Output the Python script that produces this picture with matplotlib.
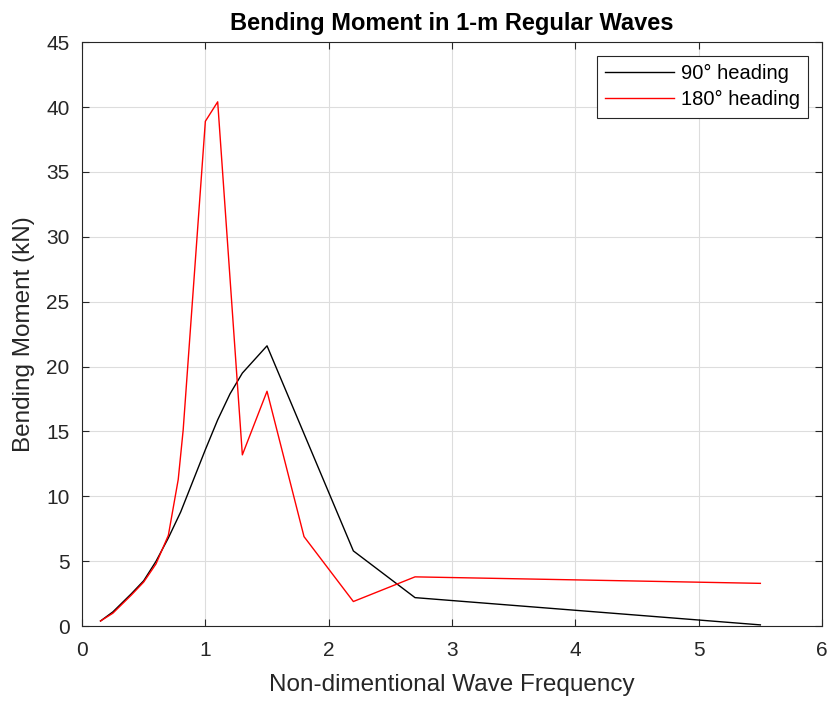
import matplotlib.pyplot as plt

plt.rcParams['font.family'] = ['Liberation Sans', 'DejaVu Sans']

# wave frequency / bending moment for the two headings
freq_90 = [0.15, 0.25, 0.4, 0.5, 0.6, 0.7, 0.8, 0.9, 1.0, 1.1, 1.2, 1.3, 1.5, 2.2, 2.7, 5.5]
moment_90 = [0.4, 1.1, 2.5, 3.5, 5.0, 6.8, 8.8, 11.2, 13.6, 15.9, 17.9, 19.5, 21.6, 5.8, 2.2, 0.1]

freq_180 = [0.15, 0.25, 0.4, 0.5, 0.6, 0.7, 0.78, 0.82, 1.0, 1.1, 1.3, 1.5, 1.8, 2.2, 2.7, 5.5]
moment_180 = [0.4, 1.0, 2.4, 3.4, 4.8, 7.0, 11.3, 15.1, 38.9, 40.4, 13.2, 18.1, 6.9, 1.9, 3.8, 3.3]

fig = plt.figure(figsize=(8.31, 7.02), dpi=100)
ax = fig.add_axes([0.0987, 0.108, 0.8905, 0.832])

ax.plot(freq_90, moment_90, color='black', lw=1.0, label='90° heading')
ax.plot(freq_180, moment_180, color='red', lw=1.0, label='180° heading')

ax.set_xlim(0, 6)
ax.set_ylim(0, 45)
ax.set_xticks(range(0, 7))
ax.set_yticks(range(0, 46, 5))
ax.grid(True, color='#dddddd', lw=0.8)
ax.set_axisbelow(True)
ax.tick_params(direction='in', length=5, labelsize=15, colors='#262626', top=True, right=True,
               labeltop=False, labelright=False)
ax.tick_params(axis='x', pad=11)
ax.tick_params(axis='y', pad=9)
for s in ax.spines.values():
    s.set_color('#262626')
    s.set_linewidth(0.8)

ax.set_title('Bending Moment in 1-m Regular Waves', fontsize=17, fontweight='bold', pad=9)
ax.set_xlabel('Non-dimentional Wave Frequency', fontsize=17.5, color='#262626', labelpad=10)
ax.set_ylabel('Bending Moment (kN)', fontsize=17.5, color='#262626', labelpad=8)

leg = ax.legend(loc='upper right', fontsize=14.5, fancybox=False, framealpha=1,
                edgecolor='#262626', handlelength=3.4, handletextpad=0.35,
                borderpad=0.4, labelspacing=0.35, borderaxespad=0.7)
leg.get_frame().set_linewidth(0.8)

fig.savefig('out.png', dpi=100)
